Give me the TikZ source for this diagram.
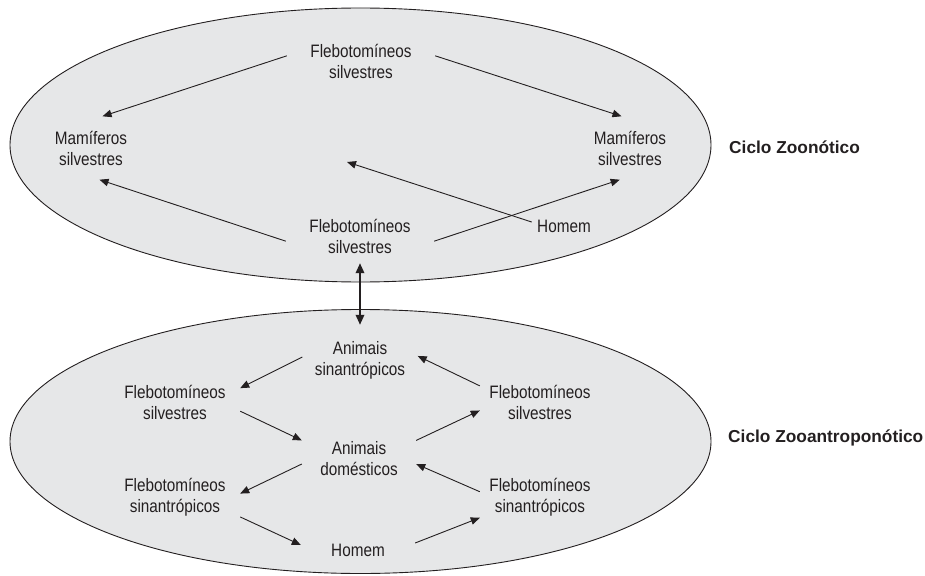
\documentclass[tikz,border=0pt]{standalone}
\usepackage{fontspec}
\setmainfont{Liberation Sans}[FakeStretch=0.85]
\newfontfamily\cyclefont{Liberation Sans}
\usetikzlibrary{arrows.meta}
\definecolor{inkgray}{HTML}{231F20}
\definecolor{cyclefill}{HTML}{E6E7E8}

\begin{document}
\begin{tikzpicture}[
    x=1pt,y=-1pt,
    font=\fontsize{18}{21}\selectfont,
    text=inkgray,
    host/.style={align=center,inner sep=0pt,minimum height=44pt},
    cyclearea/.style={draw=inkgray,fill=cyclefill,line width=0.9pt},
    cyclename/.style={anchor=west,inner sep=0pt,font=\cyclefont\bfseries\fontsize{17.3}{21}\selectfont},
    flow/.style={draw=inkgray,line width=0.9pt,-{Triangle[length=9pt,width=7.5pt]}},
    bothway/.style={draw=inkgray,line width=1.8pt,{Triangle[length=10pt,width=8.5pt]}-{Triangle[length=10pt,width=8.5pt]}}
]
\useasboundingbox (0,0) rectangle (925,575);

% Ciclo zoonotico
\draw[cyclearea] (360.5,145) ellipse [x radius=350.5pt, y radius=137pt];

\node[host,minimum width=148pt] (FT) at (361,61) {Flebotomíneos\\silvestres};
\node[host,minimum height=63pt] (ML) at (91,148) {Mamíferos\\silvestres};
\node[host,minimum height=63pt] (MR) at (630,148) {Mamíferos\\silvestres};
\node[host,minimum width=148pt] (FB) at (360,236) {Flebotomíneos\\silvestres};
\node[host,minimum width=64pt,minimum height=20pt] (HT) at (564,226) {Homem};
\coordinate (HT-end) at (347,162);

\draw[flow] (FT.176) -- (ML.70);
\draw[flow] (FT.4) -- (MR.105);
\draw[flow] (FB.184) -- (ML.-75);
\draw[flow] (FB.356) -- (MR.252);
\draw[flow] (HT.173) -- (HT-end);

\node[cyclename] (CZ) at (729,147) {Ciclo Zoonótico};

% Ciclo zooantroponotico
\draw[cyclearea] (360.5,441.5) ellipse [x radius=350.5pt, y radius=132pt];

\node[host,minimum width=115pt] (AS) at (360,360) {Animais\\sinantrópicos};
\node[host,minimum width=130pt] (FSL) at (175,402) {Flebotomíneos\\silvestres};
\node[host,minimum width=114pt] (AD) at (359,459) {Animais\\domésticos};
\node[host,minimum width=130pt] (FNL) at (175,497) {Flebotomíneos\\sinantrópicos};
\node[host,minimum width=114pt,minimum height=20pt] (HB) at (358,550) {Homem};
\node[host,minimum width=120pt] (FSR) at (540,402) {Flebotomíneos\\silvestres};
\node[host,minimum width=120pt] (FNR) at (540,497) {Flebotomíneos\\sinantrópicos};

\draw[flow] (AS.177) -- (FSL.12);
\draw[flow] (FSL.-8) -- (AD.162);
\draw[flow] (AD.185) -- (FNL.3);
\draw[flow] (FNL.-17) -- (HB.175);
\draw[flow] (FSR.165) -- (AS.4);
\draw[flow] (AD.18) -- (FSR.188);
\draw[flow] (FNR.175) -- (AD.355);
\draw[flow] (HB.7) -- (FNR.199);

\node[cyclename] (CZA) at (728,438) {Ciclo Zooantroponótico};

% ligacao entre os ciclos
\draw[bothway,shorten <=5pt,shorten >=13pt] (FB.south) -- (AS.north);

\end{tikzpicture}
\end{document}
